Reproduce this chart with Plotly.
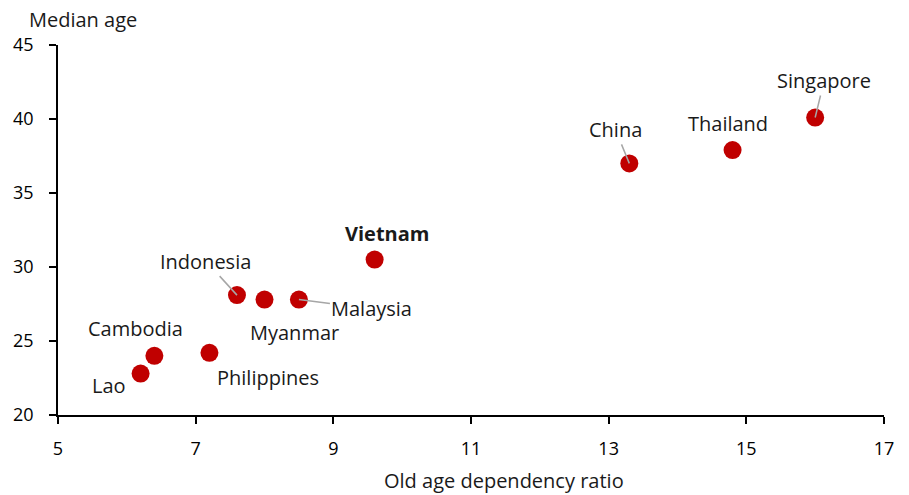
import plotly.graph_objects as go

# Old age dependency ratio vs median age, selected Asian economies
countries = ["Lao", "Cambodia", "Philippines", "Indonesia", "Myanmar",
             "Malaysia", "Vietnam", "China", "Thailand", "Singapore"]
dependency_ratio = [6.2, 6.4, 7.2, 7.6, 8.0, 8.5, 9.6, 13.3, 14.8, 16.0]
median_age = [22.8, 24.0, 24.2, 28.1, 27.8, 27.8, 30.5, 37.0, 37.9, 40.1]

x_ticks = [5, 7, 9, 11, 13, 15, 17]
y_ticks = [20, 25, 30, 35, 40, 45]

# label placement: pixel offset of the label centre from its marker,
# and whether a grey leader line joins them
label_offsets = {
    "Lao": (-32, 12, False),
    "Cambodia": (-19, -27, False),
    "Philippines": (59, 25, False),
    "Indonesia": (-31, -34, True),
    "Myanmar": (30, 33, False),
    "Malaysia": (73, 9, True),
    "Vietnam": (12, -26, False),
    "China": (-14, -34, True),
    "Thailand": (-5, -27, False),
    "Singapore": (9, -37, True),
}

FONT = "Open Sans"
TEXT = "#1a1a1a"

fig = go.Figure()
fig.add_trace(go.Scatter(
    x=dependency_ratio, y=median_age, mode="markers",
    marker=dict(size=18, color="#C00000", line=dict(width=0)),
    hoverinfo="skip", showlegend=False,
))

annotations = []
for name, xv, yv in zip(countries, dependency_ratio, median_age):
    dx, dy, leader = label_offsets[name]
    label = f"<b>{name}</b>" if name == "Vietnam" else name
    annotations.append(dict(
        x=xv, y=yv, xref="x", yref="y", text=label,
        showarrow=True, ax=dx, ay=dy, arrowhead=0, standoff=0,
        arrowwidth=1.5,
        arrowcolor="#a6a6a6" if leader else "rgba(0,0,0,0)",
        font=dict(family=FONT, size=20, color=TEXT),
    ))

annotations.append(dict(
    text="Median age", xref="paper", yref="paper", x=0, y=1.068,
    xanchor="left", yanchor="middle", xshift=-31, showarrow=False,
    font=dict(family=FONT, size=20, color=TEXT),
))
annotations.append(dict(
    text="Old age dependency ratio", xref="paper", yref="paper",
    x=0.54, y=-0.178, xanchor="center", yanchor="middle", showarrow=False,
    font=dict(family=FONT, size=20, color=TEXT),
))

axis_common = dict(
    showgrid=False, zeroline=False, showline=True, linecolor="#000000",
    linewidth=1.5, ticks="outside", ticklen=7, tickwidth=1.5,
    tickcolor="#000000", tickfont=dict(family=FONT, size=18, color="#000000"),
)

fig.update_layout(
    width=909, height=495,
    margin=dict(l=58, r=25, t=45, b=80),
    plot_bgcolor="white", paper_bgcolor="white",
    xaxis=dict(range=[5, 17], tickvals=x_ticks, ticklabelstandoff=10,
               **axis_common),
    yaxis=dict(range=[20, 45], tickvals=y_ticks, ticklabelstandoff=12,
               **axis_common),
    annotations=annotations,
)

fig.write_html("out.html")
